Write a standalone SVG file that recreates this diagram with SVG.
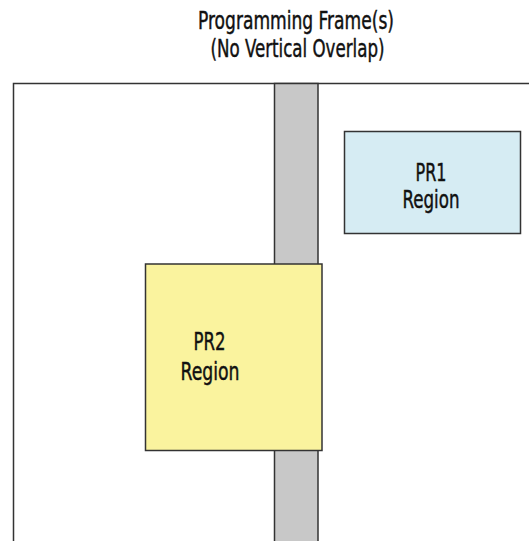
<svg xmlns="http://www.w3.org/2000/svg" width="529" height="541" viewBox="0 0 529 541">
<style>
text{font-family:"DejaVu Sans Condensed","Liberation Sans",sans-serif;font-size:25px;fill:#111;stroke:#111;stroke-width:0.45;text-anchor:middle}
.ln{fill:none;stroke:#333;stroke-width:1.5}
</style>
<rect width="529" height="541" fill="#fff"/>
<g id="title">
<text x="296" y="28.5" textLength="196" lengthAdjust="spacingAndGlyphs">Programming Frame(s)</text>
<text x="297.5" y="56.5" textLength="174" lengthAdjust="spacingAndGlyphs">(No Vertical Overlap)</text>
</g>
<g id="device">
<path class="ln" d="M13.5,542 V83.5 H530"/>
</g>
<g id="frame">
<rect x="274.5" y="83.5" width="43.5" height="460" fill="#c8c8c8" stroke="#333" stroke-width="1.5"/>
</g>
<g id="pr1">
<rect x="344.5" y="131.5" width="176" height="102" fill="#d6ecf3" stroke="#333" stroke-width="1.5"/>
<text x="431" y="181" textLength="31" lengthAdjust="spacingAndGlyphs">PR1</text>
<text x="431" y="208" textLength="57" lengthAdjust="spacingAndGlyphs">Region</text>
</g>
<g id="pr2">
<rect x="145.5" y="264" width="176.5" height="186.5" fill="#faf39e" stroke="#333" stroke-width="1.5"/>
<text x="209.5" y="350" textLength="32" lengthAdjust="spacingAndGlyphs">PR2</text>
<text x="210" y="380" textLength="59" lengthAdjust="spacingAndGlyphs">Region</text>
</g>
</svg>
